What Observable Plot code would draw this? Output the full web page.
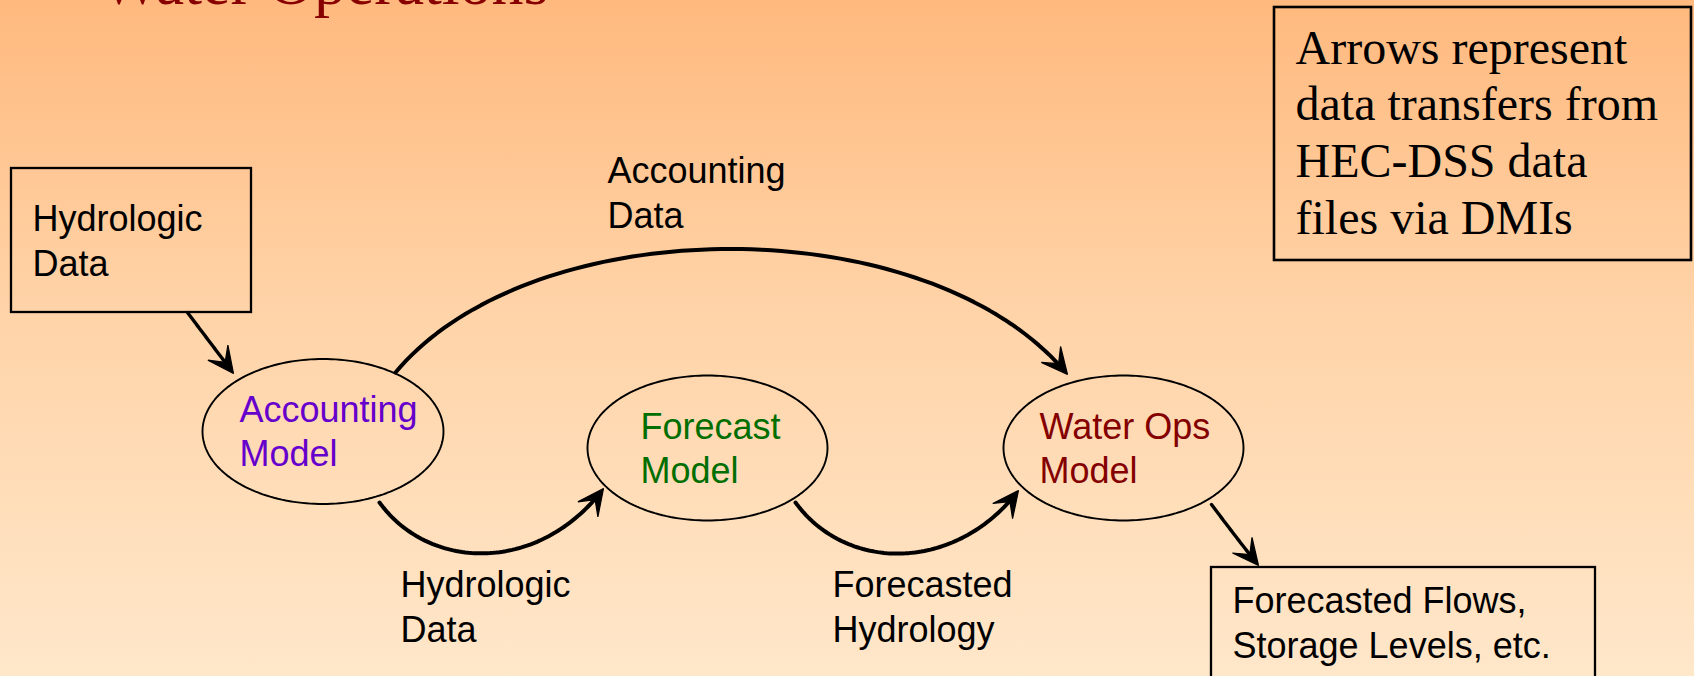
<!DOCTYPE html>
<html><head><meta charset="utf-8">
<script src="https://cdn.jsdelivr.net/npm/d3@7"></script>
<script src="https://cdn.jsdelivr.net/npm/@observablehq/plot@0.6"></script>
<style>
html,body{margin:0;padding:0;overflow:hidden;}
body{width:1694px;height:676px;background:linear-gradient(to bottom,#ffb97e 0%,#ffd3a7 45%,#ffe7ca 100%);}
#chart svg{display:block;}
</style></head><body><div id="chart"></div>
<script>
// ---- content ----
const title = "Water Operations";
const boxLabels = ["Hydrologic\nData", "Forecasted Flows,\nStorage Levels, etc."];
const modelLabels = ["Accounting\nModel", "Forecast\nModel", "Water Ops\nModel"];
const modelColors = ["#6600cc", "#006e00", "#840000"];
const flowLabels = ["Accounting\nData", "Hydrologic\nData", "Forecasted\nHydrology"];
const noteLabel = "Arrows represent\ndata transfers from\nHEC-DSS data\nfiles via DMIs";

// ---- diagram layout (diagram units = px) ----
const boxLayout = [
  {x1: 11, y1: 168, x2: 251, y2: 312, tx: 32, ty: 275},
  {x1: 1211, y1: 567, x2: 1595, y2: 720, tx: 1232, ty: 657}
];
const modelLayout = [
  {cx: 322.5, cy: 431, rx: 120.5, ry: 72.5, tx: 239, ty: 465},
  {cx: 707, cy: 447.5, rx: 120, ry: 72.5, tx: 640, ty: 482},
  {cx: 1123, cy: 447.5, rx: 120, ry: 72.5, tx: 1039, ty: 482}
];
const flowLayout = [{tx: 607, ty: 227}, {tx: 400, ty: 641}, {tx: 832, ty: 641}];
const edgeLayout = [
  {p: [[187,312],[202,332],[218,353],[233,373]], w: 3.4},
  {p: [[395,372],[533,207],[929,207],[1067,374]], w: 4},
  {p: [[379,502],[430,572],[540,572],[603,488]], w: 4},
  {p: [[795,502],[846,572],[955,572],[1018,490]], w: 4},
  {p: [[1211,504],[1226,524],[1242,545],[1258,565]], w: 3.4}
];
const noteLayout = {x1: 1274, y1: 7, x2: 1691, y2: 260, tx: 1295, ty: 233};
const titleLayout = {tx: 100, ty: 3};

// ---- derived geometry ----
const boxes = boxLabels.map((t, i) => ({text: t, ...boxLayout[i]}));
const models = modelLabels.map((t, i) => ({text: t, color: modelColors[i], ...modelLayout[i]}));
const flows = flowLabels.map((t, i) => ({text: t, ...flowLayout[i]}));

const ellipsePts = models.flatMap((m, i) =>
  d3.range(0, 180).map(k => {
    const a = k / 180 * 2 * Math.PI;
    return {id: i, x: m.cx + m.rx * Math.cos(a), y: m.cy + m.ry * Math.sin(a)};
  }));

function bez(p, t) {
  const u = 1 - t;
  return [0, 1].map(j => u*u*u*p[0][j] + 3*u*u*t*p[1][j] + 3*u*t*t*p[2][j] + t*t*t*p[3][j]);
}
const L = 26, HW = 12.5, NOTCH = 14;
const edgeLines = edgeLayout.map((e, i) => {
  const tip = e.p[3];
  return d3.range(0, 81).map(k => bez(e.p, k / 80))
    .filter(q => Math.hypot(q[0] - tip[0], q[1] - tip[1]) > 13)
    .map(q => ({id: i, x: q[0], y: q[1]}));
});
const heads = edgeLayout.flatMap((e, i) => {
  const T = e.p[3], P = e.p[2];
  let dx = T[0] - P[0], dy = T[1] - P[1];
  const n = Math.hypot(dx, dy); dx /= n; dy /= n;
  const bx = T[0] - dx * L, by = T[1] - dy * L;
  return [
    {id: i, x: T[0], y: T[1]},
    {id: i, x: bx - dy * HW, y: by + dx * HW},
    {id: i, x: T[0] - dx * NOTCH, y: T[1] - dy * NOTCH},
    {id: i, x: bx + dy * HW, y: by - dx * HW}
  ];
});

const sans = "'Liberation Sans', Arial, Helvetica, sans-serif";
const serif = "'Liberation Serif', 'Times New Roman', Times, serif";

const chart = Plot.plot({
  width: 1694, height: 676, margin: 0,
  x: {domain: [0, 1694], range: [0, 1694], axis: null},
  y: {domain: [0, 676], range: [0, 676], axis: null},
  style: {background: "transparent", overflow: "hidden"},
  marks: [
    Plot.text([title], {x: titleLayout.tx, y: titleLayout.ty, text: d => d, textAnchor: "start", lineAnchor: "bottom",
      fontSize: 64, fontFamily: serif, fill: "#880000"}),
    Plot.rect(boxes, {x1: "x1", x2: "x2", y1: "y1", y2: "y2", fill: "none", stroke: "black", strokeWidth: 2.3}),
    Plot.rect([noteLayout], {x1: "x1", x2: "x2", y1: "y1", y2: "y2", fill: "none", stroke: "black", strokeWidth: 2.6}),
    Plot.line(ellipsePts, {x: "x", y: "y", z: "id", curve: "linear-closed", stroke: "black", strokeWidth: 1.9, fill: "none"}),
    ...edgeLines.map((pts, i) => Plot.line(pts, {x: "x", y: "y", stroke: "black", strokeWidth: edgeLayout[i].w, curve: "linear"})),
    Plot.line(heads, {x: "x", y: "y", z: "id", curve: "linear-closed", fill: "black", stroke: "black", strokeWidth: 1.2, strokeLinejoin: "miter"}),
    Plot.text(boxes, {x: "tx", y: "ty", text: "text", textAnchor: "start", lineAnchor: "bottom", lineHeight: 1.23,
      fontSize: 36, fontFamily: sans, fill: "black"}),
    Plot.text(models, {x: "tx", y: "ty", text: "text", textAnchor: "start", lineAnchor: "bottom", lineHeight: 1.22,
      fontSize: 36, fontFamily: sans, fill: d => d.color}),
    Plot.text(flows, {x: "tx", y: "ty", text: "text", textAnchor: "start", lineAnchor: "bottom", lineHeight: 1.25,
      fontSize: 36, fontFamily: sans, fill: "black"}),
    Plot.text([noteLabel], {x: noteLayout.tx, y: noteLayout.ty, text: d => d, textAnchor: "start", lineAnchor: "bottom", lineHeight: 1.18,
      fontSize: 48, fontFamily: serif, fill: "black"})
  ]
});
document.getElementById("chart").appendChild(chart);
</script></body></html>
